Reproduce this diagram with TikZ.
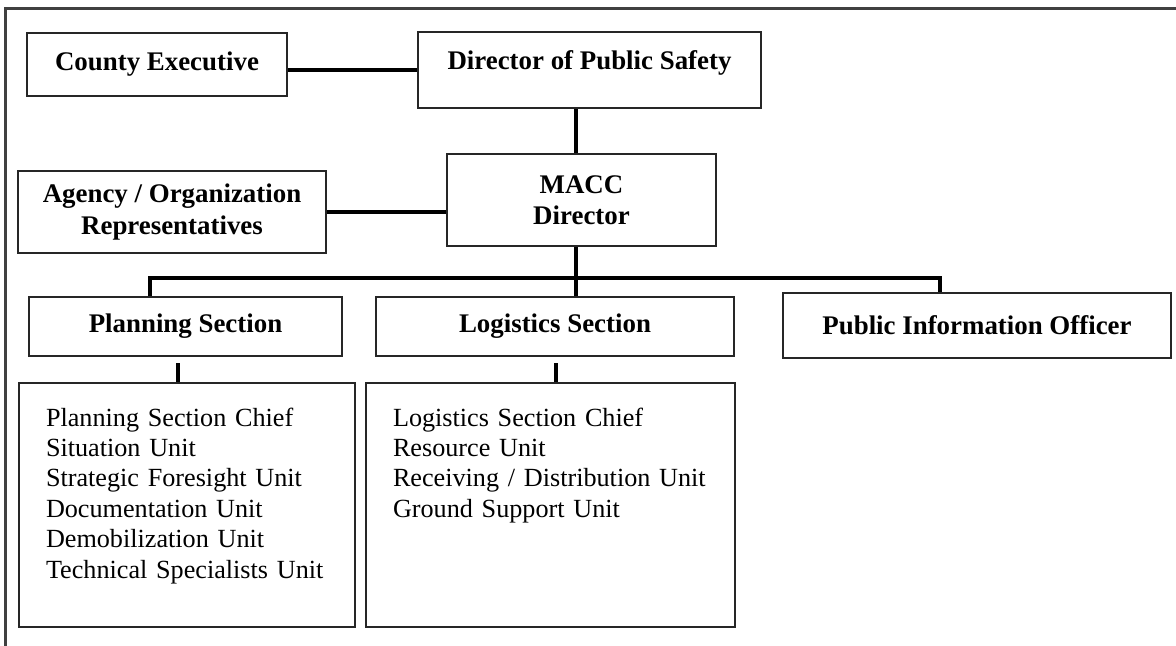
\documentclass[tikz,border=0pt]{standalone}
\usepackage{fontspec}
\setmainfont{Liberation Serif}
\usepackage{tikz}
\usetikzlibrary{calc}

\tikzset{
  unitbox/.style={draw=black!85, line width=0.4mm, inner sep=0pt, align=center,
    font=\fontsize{15.3pt}{17.9pt}\selectfont\bfseries},
  listbox/.style={draw=black!85, line width=0.4mm, anchor=north west, align=left,
    inner xsep=5.4mm, inner ysep=0pt, text height=8.6mm, text depth=40.2mm,
    font=\fontsize{14.9pt}{17.3pt}\selectfont},
  link/.style={line width=0.9mm, black},
  tick/.style={line width=0.7mm, black}
}

\begin{document}
\begin{tikzpicture}[x=0.2mm,y=-0.2mm]
        %RAMKA
        \useasboundingbox (0,0) rectangle (1176,646);
        \draw[black!75, line width=0.6mm] (5,646) -- (5,8) -- (1176,8);
        %KOORDINAT
        \coordinate (busL) at (150,278);
        \coordinate (bus) at (576,278);
        \coordinate (busR) at (940,278);
        \coordinate (pt) at (178,363);
        \coordinate (lt) at (556,363);
        %KOTAK
        \node[unitbox, minimum width=52mm, minimum height=12.6mm] (ce) at (157,64.5) {County Executive};
        \node[unitbox, minimum width=68.6mm, text height=7.4mm, text depth=7.8mm] (dps) at (589.5,70) {Director of Public Safety};
        \node[unitbox, minimum width=53.8mm, minimum height=18.4mm] (macc) at (581.5,200) {MACC\\Director};
        \node[unitbox, minimum width=61.6mm, minimum height=16.4mm] (aor) at (172,212) {Agency / Organization\\Representatives};
        \node[unitbox, minimum width=62.6mm, minimum height=11.8mm] (ps) at (185.5,326.5) {Planning Section};
        \node[unitbox, minimum width=71.6mm, minimum height=11.8mm] (ls) at (555,326.5) {Logistics Section};
        \node[unitbox, minimum width=77.6mm, minimum height=13mm] (pio) at (977,325.5) {Public Information Officer};
        %DAFTAR
        \node[listbox, text width=56.4mm] (psl) at (18,382) {Planning Section Chief\\Situation Unit\\Strategic Foresight Unit\\Documentation Unit\\Demobilization Unit\\Technical Specialists Unit};
        \node[listbox, text width=63mm] (lsl) at (365,382) {Logistics Section Chief\\Resource Unit\\Receiving / Distribution Unit\\Ground Support Unit};
        %GARIS
        \draw[link] (ce.east |- dps.west) -- (dps.west);
        \draw[link] (dps.south -| bus) -- (macc.north -| bus);
        \draw[link] (aor.east) -- (aor.east -| macc.west);
        \draw[link] (macc.south -| bus) -- (bus |- ls.north);
        \draw[link] (busL |- ps.north) -- (busL) -- (busR) -- (busR |- pio.north);
        \draw[tick] (pt) -- (pt |- psl.north);
        \draw[tick] (lt) -- (lt |- lsl.north);
\end{tikzpicture}
\end{document}
